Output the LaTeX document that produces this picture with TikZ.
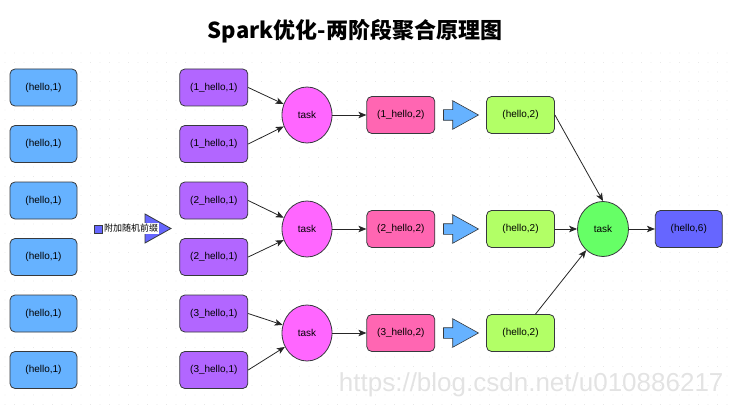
\documentclass[tikz,border=0pt]{standalone}
\usepackage{fontspec}
\setmainfont{Liberation Sans}
\newfontfamily\cjk{Noto Sans CJK SC}
\usetikzlibrary{arrows.meta,positioning,shapes.geometric,shapes.arrows}
\definecolor{LineGray}{RGB}{54,57,61}
\definecolor{PairBlue}{RGB}{102,178,255}
\definecolor{PairPurple}{RGB}{178,102,255}
\definecolor{TaskPink}{RGB}{255,102,255}
\definecolor{PartialPink}{RGB}{255,102,178}
\definecolor{MergedGreen}{RGB}{178,255,102}
\definecolor{FinalGreen}{RGB}{102,255,102}
\definecolor{ResultBlue}{RGB}{102,102,255}
\tikzset{
  pair/.style={draw=LineGray,rounded corners=5pt,line width=0.8pt,
    minimum width=67pt,minimum height=37pt,align=center,
    font=\fontsize{10}{12}\selectfont},
  rawpair/.style={pair,fill=PairBlue},
  saltpair/.style={pair,fill=PairPurple,minimum width=68pt},
  partial/.style={pair,fill=PartialPink,minimum width=68pt},
  merged/.style={pair,fill=MergedGreen,minimum width=68pt},
  total/.style={pair,fill=ResultBlue},
  taskellipse/.style={ellipse,draw=LineGray,line width=0.8pt,fill=TaskPink,
    minimum width=50pt,minimum height=56pt,inner sep=0pt,
    font=\fontsize{10}{12}\selectfont},
  handover/.style={single arrow,draw=LineGray,line width=0.6pt,fill=PairBlue,
    minimum height=35pt,inner xsep=0pt,inner ysep=5pt,
    single arrow head extend=9pt,single arrow tip angle=58,
    single arrow head indent=0pt},
  arrow/.style={-{Stealth[length=8pt,width=6.5pt,inset=2pt]},line width=0.8pt,black!85}
}
\begin{document}
\begin{tikzpicture}[x=1pt,y=-1pt,node distance=34pt]
  \useasboundingbox (0,0) rectangle (733,409);
  \foreach \x in {5,14.5,...,730}
    \foreach \y in {53,62.5,...,405}
      \fill[gray!28] (\x,\y) circle (0.45pt);
  \node[text=gray!22,font=\fontsize{26}{30}\selectfont,anchor=east] (wm) at (727,385) {https://blog.csdn.net/u010886217};
  \node[font=\cjk\bfseries\fontsize{22}{26}\selectfont] (title) at (355,31) {Spark优化-两阶段聚合原理图};
  \node[rawpair] (b1) at (43.5,87.5) {(hello,1)};
  \node[rawpair] (b2) at (43.5,144) {(hello,1)};
  \node[rawpair] (b3) at (43.5,200.5) {(hello,1)};
  \node[rawpair] (b4) at (43.5,257) {(hello,1)};
  \node[rawpair] (b5) at (43.5,313.5) {(hello,1)};
  \node[rawpair] (b6) at (43.5,370) {(hello,1)};
  \node[saltpair,right=102pt of b1] (p1) {(1\_hello,1)};
  \node[saltpair,right=102pt of b2] (p2) {(1\_hello,1)};
  \node[saltpair,right=102pt of b3] (p3) {(2\_hello,1)};
  \node[saltpair,right=102pt of b4] (p4) {(2\_hello,1)};
  \node[saltpair,right=102pt of b5] (p5) {(3\_hello,1)};
  \node[saltpair,right=102pt of b6] (p6) {(3\_hello,1)};
  \draw[line width=0.8pt,draw=LineGray,fill=ResultBlue] (145,214) -- (171,228.5) -- (145,243) -- cycle;
  \node[fill=white,inner sep=1pt,font=\cjk\fontsize{9}{11}\selectfont,anchor=west] (pfx) at (103,228.5) {附加随机前缀};
  \node[draw=LineGray,line width=0.6pt,fill=ResultBlue,minimum size=8pt,inner sep=0pt] (mark) at (98,229) {};
  \node[taskellipse] (t1) at (307,115) {task};
  \node[taskellipse] (t2) at (307,229) {task};
  \node[taskellipse] (t3) at (307,333) {task};
  \node[partial,right=of t1] (k1) {(1\_hello,2)};
  \node[partial,right=of t2] (k2) {(2\_hello,2)};
  \node[partial,right=of t3] (k3) {(3\_hello,2)};
  \node[handover,right=8pt of k1] (a1) {};
  \node[handover,right=8pt of k2] (a2) {};
  \node[handover,right=8pt of k3] (a3) {};
  \node[merged,right=7pt of a1] (g1) {(hello,2)};
  \node[merged,right=7pt of a2] (g2) {(hello,2)};
  \node[merged,right=7pt of a3] (g3) {(hello,2)};
  \node[taskellipse,fill=FinalGreen,minimum width=51pt,minimum height=55pt] (fin) at (603,229) {task};
  \node[total,right=26pt of fin] (res) {(hello,6)};
  \draw[arrow] (p1.east) -- (t1);
  \draw[arrow] (p2.east) -- (t1);
  \draw[arrow] (p3.east) -- (t2);
  \draw[arrow] (p4.east) -- (t2);
  \draw[arrow] (p5.east) -- (t3);
  \draw[arrow] (p6.east) -- (t3);
  \draw[arrow] (t1) -- (k1);
  \draw[arrow] (t2) -- (k2);
  \draw[arrow] (t3) -- (k3);
  \draw[arrow] (g1.east) -- (fin.north);
  \draw[arrow] (g2) -- (fin);
  \draw[arrow] (g3) -- (fin);
  \draw[arrow] (fin) -- (res);
\end{tikzpicture}
\end{document}
